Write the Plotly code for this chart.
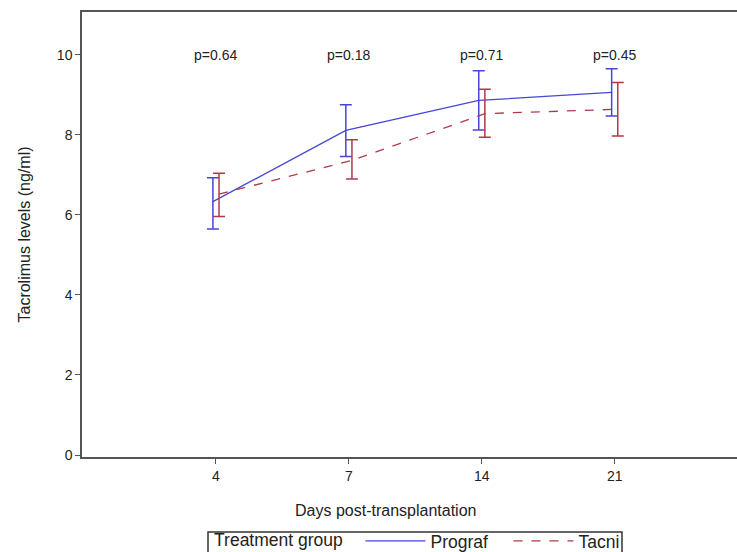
import plotly.graph_objects as go

days = ["4", "7", "14", "21"]
pvalues = ["p=0.64", "p=0.18", "p=0.71", "p=0.45"]

prograf_mean = [6.33, 8.11, 8.86, 9.06]
prograf_upper = [6.93, 8.75, 9.60, 9.65]
prograf_lower = [5.65, 7.46, 8.12, 8.47]

tacni_mean = [6.52, 7.36, 8.53, 8.64]
tacni_upper = [7.04, 7.88, 9.14, 9.31]
tacni_lower = [5.96, 6.90, 7.94, 7.97]

BLUE = "#4646d8"
RED = "#b03a48"
TXT = "#222222"
FONT = "Liberation Sans, Arial, sans-serif"

idx = list(range(len(days)))
off = 0.023
xp = [i - off for i in idx]
xt = [i + off for i in idx]

fig = go.Figure()
fig.add_trace(go.Scatter(
    x=xp, y=prograf_mean, mode="lines", name="Prograf",
    line=dict(color=BLUE, width=1.3),
    error_y=dict(type="data", symmetric=False,
                 array=[u - m for u, m in zip(prograf_upper, prograf_mean)],
                 arrayminus=[m - l for m, l in zip(prograf_mean, prograf_lower)],
                 color=BLUE, thickness=1.5, width=6),
))
fig.add_trace(go.Scatter(
    x=xt, y=tacni_mean, mode="lines", name="Tacni",
    line=dict(color=RED, width=1.3, dash="dash"),
    error_y=dict(type="data", symmetric=False,
                 array=[u - m for u, m in zip(tacni_upper, tacni_mean)],
                 arrayminus=[m - l for m, l in zip(tacni_mean, tacni_lower)],
                 color=RED, thickness=1.5, width=6),
))

for i, p in zip(idx, pvalues):
    fig.add_annotation(x=i, y=10, text=p, showarrow=False,
                       font=dict(family=FONT, size=14, color=TXT))

fig.add_annotation(xref="paper", yref="paper", x=0.464, y=-0.12,
                   text="Days post-transplantation", showarrow=False,
                   xanchor="center", yanchor="middle",
                   font=dict(family=FONT, size=16, color=TXT))

# legend frame
fig.add_shape(type="rect", xref="paper", yref="paper",
              x0=0.19237, x1=0.82443, y0=-0.16854, y1=-0.235,
              line=dict(color="#333", width=1.5), fillcolor="rgba(0,0,0,0)",
              layer="above")

fig.update_layout(
    width=737, height=552,
    margin=dict(l=82, r=0, t=12, b=95),
    paper_bgcolor="white", plot_bgcolor="white",
    font=dict(family=FONT, color=TXT),
    showlegend=True,
    legend=dict(
        orientation="h", xref="container", yref="container",
        x=0.2877, xanchor="left", y=0.0525, yanchor="top",
        title=dict(text="Treatment group  ", side="left",
                   font=dict(family=FONT, size=17.5, color=TXT)),
        font=dict(family=FONT, size=17.5, color=TXT),
        borderwidth=0, bgcolor="rgba(0,0,0,0)",
        itemwidth=60, entrywidth=73, entrywidthmode="pixels",
        tracegroupgap=0,
    ),
    xaxis=dict(
        range=[-1.008, 3.92], tickmode="array", tickvals=idx, ticktext=days,
        showline=True, linecolor="#555", linewidth=1.5, mirror=True,
        ticks="outside", ticklen=5, tickcolor="#555",
        showgrid=False, zeroline=False,
        tickfont=dict(family=FONT, size=14, color=TXT),
    ),
    yaxis=dict(
        range=[-0.05, 11.07], tickvals=[0, 2, 4, 6, 8, 10],
        showline=True, linecolor="#555", linewidth=1.5,
        ticks="outside", ticklen=5, tickcolor="#555",
        showgrid=False, zeroline=False,
        tickfont=dict(family=FONT, size=14, color=TXT),
        title=dict(text="Tacrolimus levels (ng/ml)",
                   font=dict(family=FONT, size=16, color=TXT), standoff=22),
    ),
)

fig.write_html("out.html", config={"displayModeBar": False},
               post_script="document.body.style.margin='0';document.body.style.overflow='hidden';")
